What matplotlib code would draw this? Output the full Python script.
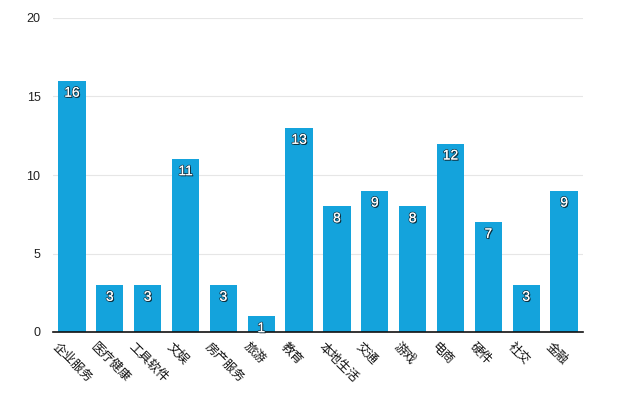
import matplotlib
matplotlib.use("Agg")
import matplotlib.pyplot as plt
import matplotlib.patheffects as pe

categories = ["企业服务", "医疗健康", "工具软件", "文娱", "房产服务", "旅游", "教育",
              "本地生活", "交通", "游戏", "电商", "硬件", "社交", "金融"]
values = [16, 3, 3, 11, 3, 1, 13, 8, 9, 8, 12, 7, 3, 9]
yticks = [0, 5, 10, 15, 20]

plt.rcParams['font.family'] = ['Liberation Sans', 'Noto Sans CJK SC', 'DejaVu Sans']

fig = plt.figure(figsize=(6.3, 3.93), dpi=100)
ax = fig.add_axes([53/630, 1-332/393, 530/630, 314/393])

x = list(range(len(categories)))
bars = ax.bar(x, values, width=0.72, color='#14a3dc', zorder=2)
ax.set_xlim(-0.5, len(categories) - 0.5)
ax.set_ylim(0, 20)
ax.set_yticks(yticks)
ax.set_yticklabels([str(t) for t in yticks], fontsize=9, color='#222222')
ax.yaxis.grid(True, color='#e6e6e6', linewidth=0.8, zorder=0)
ax.set_axisbelow(True)
ax.tick_params(axis='y', length=0, pad=9)
ax.tick_params(axis='x', length=0, pad=6)
for s in ['top', 'right', 'left']:
    ax.spines[s].set_visible(False)
ax.spines['bottom'].set_color('#111111')
ax.spines['bottom'].set_linewidth(1.2)
ax.spines['bottom'].set_zorder(3)

ax.set_xticks(x)
ax.set_xticklabels(categories, rotation=-45, ha='left', va='top',
                   rotation_mode='anchor', fontsize=9, color='#111111',
                   family=['Noto Sans CJK SC', 'DejaVu Sans'])
for lbl in ax.get_xticklabels():
    lbl.set_transform(lbl.get_transform() + matplotlib.transforms.ScaledTranslation(-12/100, 0, fig.dpi_scale_trans))

effects = [pe.withSimplePatchShadow(offset=(0.8, -0.8), shadow_rgbFace='black', alpha=0.8),
           pe.withStroke(linewidth=1.2, foreground='#1a3a4a'), pe.Normal()]
for xi, v in zip(x, values):
    t = ax.annotate(str(v), (xi, v), xytext=(0, -3.5), textcoords='offset points',
                    ha='center', va='top', color='white', fontsize=10, zorder=4)
    t.set_path_effects(effects)

fig.savefig('out.png', dpi=100)
